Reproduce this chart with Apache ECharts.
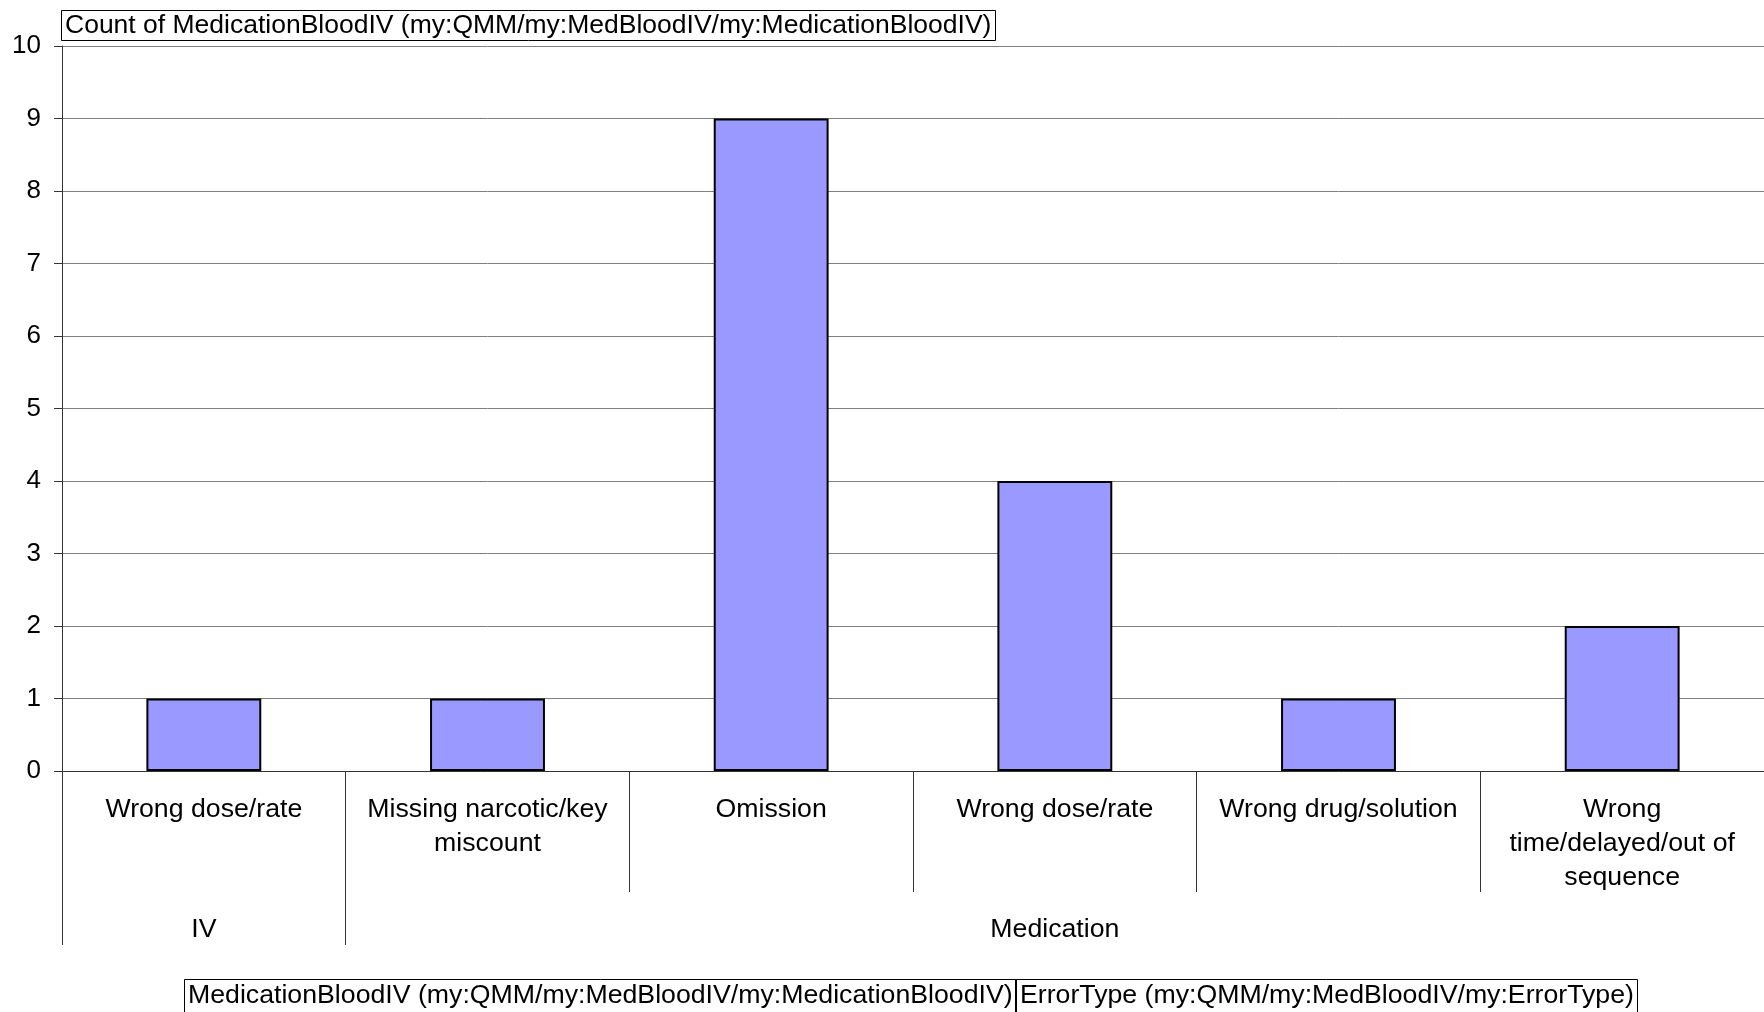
<!DOCTYPE html>
<html>
<head>
<meta charset="utf-8">
<script src="https://cdn.jsdelivr.net/npm/echarts@6/dist/echarts.min.js"></script>
<style>
html,body{margin:0;padding:0;background:#fff;}
#c{width:1764px;height:1012px;}
</style>
</head>
<body>
<div id="c"></div>
<script>
// ---- data ----
const categories = ['Wrong dose/rate', 'Missing narcotic/key\nmiscount', 'Omission', 'Wrong dose/rate', 'Wrong drug/solution', 'Wrong\ntime/delayed/out of\nsequence'];
const values = [1, 1, 9, 4, 1, 2];
const groups = ['IV', 'Medication'];
const groupSizes = [1, 5];
const yTicks = { min: 0, max: 10, interval: 1 };
const titleText = 'Count of MedicationBloodIV (my:QMM/my:MedBloodIV/my:MedicationBloodIV)';
const fieldLabels = ['MedicationBloodIV (my:QMM/my:MedBloodIV/my:MedicationBloodIV)', 'ErrorType (my:QMM/my:MedBloodIV/my:ErrorType)'];

// group boundaries and centres derived from group sizes
const groupStarts = [];
const groupCenters = [];
let acc = 0;
groupSizes.forEach(function (n) { groupStarts.push(acc); groupCenters.push(acc + n / 2); acc += n; });

const FONT = '"Liberation Sans", Arial, sans-serif';
const FS = 26.7;
const chart = echarts.init(document.getElementById('c'));
chart.setOption({
  animation: false,
  backgroundColor: '#fff',
  textStyle: { fontFamily: FONT },
  title: [
    { text: titleText, left: 61, top: 10, padding: [2, 4, 2, 4], borderWidth: 1, borderColor: '#000',
      textStyle: { fontSize: 26.5, fontWeight: 'normal', color: '#000', fontFamily: FONT, lineHeight: 27 } },
    { text: fieldLabels[0], left: 184, top: 979, padding: [3, 4, 3, 4], borderWidth: 1, borderColor: '#000',
      textStyle: { fontSize: FS, fontWeight: 'normal', color: '#000', fontFamily: FONT, lineHeight: 28 } },
    { text: fieldLabels[1], left: 1015, top: 979, padding: [3, 4, 3, 5], borderWidth: 1, borderColor: '#000',
      textStyle: { fontSize: FS, fontWeight: 'normal', color: '#000', fontFamily: FONT, lineHeight: 28 } }
  ],
  grid: { left: 62, right: 0, top: 46, bottom: 241, containLabel: false },
  xAxis: [
    {
      type: 'category', data: categories, position: 'bottom',
      axisLine: { show: true, lineStyle: { color: '#333', width: 1 } },
      axisTick: { show: true, length: 121, lineStyle: { color: '#333', width: 1 } },
      axisLabel: { interval: 0, fontSize: FS, lineHeight: 34, color: '#000', margin: 22, fontFamily: FONT, align: 'center' },
      splitLine: { show: false }
    },
    {
      type: 'value', min: 0, max: acc, position: 'bottom',
      axisLine: { show: false },
      splitLine: { show: false },
      axisTick: { show: true, length: 174, customValues: groupStarts, lineStyle: { color: '#333', width: 1 } },
      axisLabel: { show: true, customValues: groupCenters, fontSize: FS, lineHeight: 34, color: '#000', margin: 142, fontFamily: FONT,
        formatter: function (v) { const i = groupCenters.indexOf(v); return i >= 0 ? groups[i] : ''; } }
    }
  ],
  yAxis: {
    type: 'value', min: yTicks.min, max: yTicks.max, interval: yTicks.interval,
    axisLine: { show: true, lineStyle: { color: '#333', width: 1 } },
    axisTick: { show: true, length: 8, lineStyle: { color: '#333', width: 1 } },
    axisLabel: { fontSize: 26, color: '#000', margin: 21, fontFamily: FONT },
    splitLine: { show: true, lineStyle: { color: '#808080', width: 1 } }
  },
  series: [{
    type: 'bar', xAxisIndex: 0, data: values, barWidth: '40.5%',
    itemStyle: { color: '#9999FF', borderColor: '#000', borderWidth: 2 }
  }]
});
</script>
</body>
</html>
